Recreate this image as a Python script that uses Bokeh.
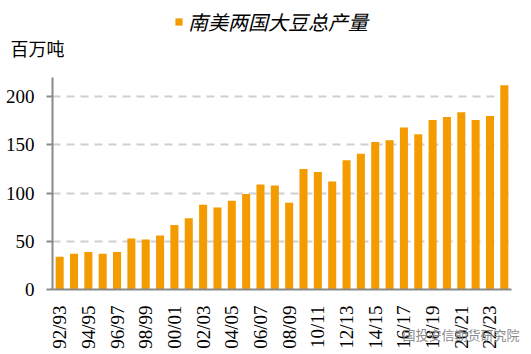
from bokeh.plotting import figure
from bokeh.layouts import column
from bokeh.models import Range1d, FixedTicker, Legend, LegendItem, Label, Title
from bokeh.embed import file_html
from bokeh.resources import INLINE
import math

seasons = ["92/93", "93/94", "94/95", "95/96", "96/97", "97/98", "98/99", "99/00",
           "00/01", "01/02", "02/03", "03/04", "04/05", "05/06", "06/07", "07/08",
           "08/09", "09/10", "10/11", "11/12", "12/13", "13/14", "14/15", "15/16",
           "16/17", "17/18", "18/19", "19/20", "20/21", "21/22", "22/23", "23/24"]
production = [34, 37, 39, 37, 39, 53, 52, 56, 67, 74, 88, 85, 92, 99, 109, 108,
              90, 125, 122, 112, 134, 141, 153, 155, 168, 161, 176, 179, 184, 176, 180, 212]
series_name = "南美两国大豆总产量"
unit_label = "百万吨"
y_ticks = [0, 50, 100, 150, 200]
watermark = "国投安信期货研究院"

BAR = "#F49B00"
AXIS = "#898989"
SERIF = "Liberation Serif"
CJK = "Noto Sans CJK SC"

W, HEAD_H, MAIN_H = 531, 77, 277

# ---------- header: legend + unit label ----------
head = figure(width=W, height=HEAD_H, output_backend="svg", toolbar_location=None,
              x_range=Range1d(0, W), y_range=Range1d(0, HEAD_H),
              x_axis_type=None, y_axis_type=None,
              min_border=0, min_border_left=0, min_border_right=0,
              min_border_top=0, min_border_bottom=0)
head.frame_align = False
head.outline_line_color = None
head.xgrid.grid_line_color = None
head.ygrid.grid_line_color = None
# legend swatch renderer (its single bar lies outside the visible range)
swatch = head.vbar(x=[-1000], top=[1], width=1, color=BAR, line_color=None)
legend = Legend(items=[LegendItem(label=series_name, renderers=[swatch])],
                location=(174, HEAD_H - 36), orientation="horizontal",
                padding=0, margin=0, spacing=0, label_standoff=5,
                glyph_width=9, glyph_height=9,
                label_text_font=CJK, label_text_font_size="20px",
                label_text_font_style="italic", label_text_color="black",
                border_line_color=None, background_fill_alpha=0)
head.add_layout(legend, "center")
head.add_layout(Label(x=10, y=HEAD_H - 60, x_units="screen", y_units="screen",
                      text=unit_label, text_font=CJK, text_font_size="18px",
                      text_color="black"))

# ---------- main chart ----------
xs = list(range(len(seasons)))
p = figure(width=W, height=MAIN_H, output_backend="svg", toolbar_location=None,
           x_range=Range1d(-0.5, len(seasons) - 0.5), y_range=Range1d(0, 220),
           min_border_left=52, min_border_right=20, min_border_top=0, min_border_bottom=65)
p.frame_align = False
p.outline_line_color = None

p.vbar(x=xs, top=production, width=0.56, color=BAR, line_color=None)

p.xaxis.ticker = FixedTicker(ticks=xs[::2])
p.xaxis.major_label_overrides = {i: seasons[i] for i in xs[::2]}
p.xaxis.major_label_orientation = math.pi / 2
p.xaxis.major_tick_line_color = None
p.xaxis.minor_tick_line_color = None
p.xaxis.axis_line_color = AXIS
p.xaxis.axis_line_width = 2
p.xaxis.major_label_text_font = SERIF
p.xaxis.major_label_text_font_size = "19px"
p.xaxis.major_label_text_color = "black"
p.xaxis.major_label_standoff = 10

p.yaxis.ticker = FixedTicker(ticks=y_ticks)
p.yaxis.minor_tick_line_color = None
p.yaxis.axis_line_color = AXIS
p.yaxis.axis_line_width = 2
p.yaxis.major_tick_line_color = AXIS
p.yaxis.major_tick_line_width = 2
p.yaxis.major_tick_out = 6
p.yaxis.major_tick_in = 0
p.yaxis.major_label_text_font = SERIF
p.yaxis.major_label_text_font_size = "19px"
p.yaxis.major_label_text_color = "black"
p.yaxis.major_label_standoff = 12

p.xgrid.grid_line_color = None
p.ygrid.grid_line_color = "#D0D0D0"
p.ygrid.grid_line_width = 2
p.ygrid.grid_line_dash = "8 6"

p.add_layout(Title(text=watermark, align="right", vertical_align="top",
                   standoff=-54, offset=-8,
                   text_font=CJK, text_font_size="13px", text_font_style="normal",
                   text_color="#8A8A8A"), "below")

layout = column(head, p, spacing=0)
open("out.html", "w").write(file_html(layout, INLINE))
